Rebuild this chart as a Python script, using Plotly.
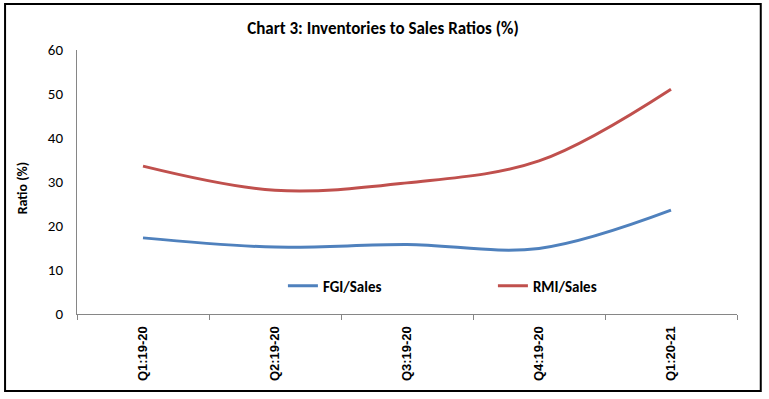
import plotly.graph_objects as go

categories = ["Q1:19-20", "Q2:19-20", "Q3:19-20", "Q4:19-20", "Q1:20-21"]
fgi_sales = [17.3, 15.2, 15.8, 14.9, 23.6]
rmi_sales = [33.6, 28.1, 29.8, 34.8, 51.1]
y_ticks = [0, 10, 20, 30, 40, 50, 60]

FONT = "Carlito, 'Liberation Sans Narrow', 'Open Sans', sans-serif"
XFONT = "'Liberation Sans', Arial, sans-serif"

fig = go.Figure()
fig.add_trace(go.Scatter(x=categories, y=fgi_sales, name="<b>FGI/Sales</b>", mode="lines",
                         line=dict(color="#4F81BD", width=3, shape="spline", smoothing=1)))
fig.add_trace(go.Scatter(x=categories, y=rmi_sales, name="<b>RMI/Sales</b>", mode="lines",
                         line=dict(color="#C0504D", width=3, shape="spline", smoothing=1)))

fig.update_layout(
    width=769, height=399,
    autosize=False,
    margin=dict(l=77, r=32, t=50, b=85, autoexpand=False),
    paper_bgcolor="white", plot_bgcolor="white",
    font=dict(family=FONT, size=14, color="black"),
    title=dict(text="<b>Chart 3: Inventories to Sales Ratios (%)</b>", x=0.498, xanchor="center",
               y=0.930, yanchor="middle", font=dict(family=FONT, size=17, color="black")),
    showlegend=True,
    legend=dict(orientation="h", x=0.312, xanchor="left", y=0.106, yanchor="middle",
                entrywidth=165, entrywidthmode="pixels", bgcolor="rgba(0,0,0,0)",
                font=dict(family=FONT, size=15, color="black"), itemclick=False),
    xaxis=dict(type="category", range=[-0.5, 4.5], automargin=False,
               showline=True, linecolor="#868686", linewidth=1,
               ticks="outside", tickson="boundaries", ticklen=5, tickcolor="#868686",
               tickangle=-90, showgrid=False, zeroline=False, ticklabelstandoff=6,
               tickfont=dict(family=XFONT, size=13, color="black"),
               tickprefix="<b>", ticksuffix="</b>"),
    yaxis=dict(range=[0, 60], tickvals=y_ticks, automargin=False,
               showline=True, linecolor="#868686", linewidth=1,
               ticks="", showgrid=False, zeroline=False, ticklabelstandoff=10,
               tickfont=dict(family=FONT, size=15, color="black"),
               tickprefix="<b>", ticksuffix="</b>"),
    annotations=[dict(text="<b>Ratio (%)</b>", xref="paper", yref="paper",
                      x=-0.083, y=0.477, xanchor="center", yanchor="middle",
                      textangle=-90, showarrow=False,
                      font=dict(family=FONT, size=14, color="black"))],
)

fig.add_shape(type="rect", xref="paper", yref="paper",
              x0=-0.109, x1=1.036, y0=-0.292, y1=1.174,
              line=dict(color="black", width=2), fillcolor="rgba(0,0,0,0)", layer="above")

fig.write_html("out.html", config={"displayModeBar": False},
               post_script="document.body.style.margin='0';")
